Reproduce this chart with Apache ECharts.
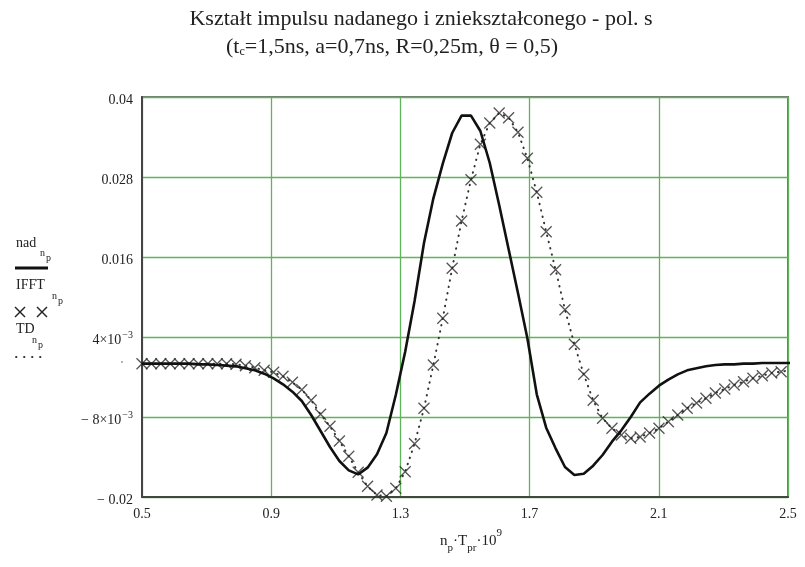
<!DOCTYPE html>
<html>
<head>
<meta charset="utf-8">
<script src="https://cdn.jsdelivr.net/npm/echarts@6/dist/echarts.min.js"></script>
<style>
  html, body { margin: 0; padding: 0; background: #fff; }
  #chart { width: 805px; height: 567px; }
</style>
</head>
<body>
<div id="chart"></div>
<script>
// Sampling grid: x = n_p * T_pr * 1e9 (ns)
const startNs = 0.5;
const samplePeriodNs = 0.0291;

// Transmitted pulse (solid line)
const nad = [
  0.0000, 0.0000, 0.0000, 0.0000, 0.0000, 0.0000, -0.0001, -0.0001, -0.0002, -0.0003,
  -0.0004, -0.0007, -0.0010, -0.0015, -0.0022, -0.0031, -0.0042, -0.0056, -0.0077, -0.0101,
  -0.0125, -0.0146, -0.0160, -0.0166, -0.0156, -0.0136, -0.0104, -0.0047, 0.0018, 0.0094,
  0.0181, 0.0248, 0.0300, 0.0346, 0.0372, 0.0372, 0.0349, 0.0301, 0.0238, 0.0172,
  0.0106, 0.0038, -0.0046, -0.0096, -0.0127, -0.0155, -0.0167, -0.0165, -0.0153, -0.0137,
  -0.0117, -0.0100, -0.0080, -0.0058, -0.0045, -0.0033, -0.0024, -0.0016, -0.0010, -0.0007,
  -0.0004, -0.0002, -0.0001, -0.0001, 0.0000, 0.0000, 0.0001, 0.0001, 0.0001, 0.0001
];

// Distorted pulse, time-domain computation (dotted line)
const td = [
  0.0000, 0.0000, 0.0000, 0.0000, 0.0000, 0.0000, 0.0000, 0.0000, 0.0000, 0.0000,
  -0.0001, -0.0003, -0.0006, -0.0010, -0.0013, -0.0019, -0.0028, -0.0039, -0.0055, -0.0076,
  -0.0094, -0.0116, -0.0139, -0.0163, -0.0184, -0.0197, -0.0199, -0.0187, -0.0162, -0.0120,
  -0.0067, -0.0002, 0.0068, 0.0143, 0.0214, 0.0276, 0.0329, 0.0361, 0.0376, 0.0369,
  0.0347, 0.0308, 0.0257, 0.0198, 0.0141, 0.0081, 0.0029, -0.0016, -0.0055, -0.0082,
  -0.0097, -0.0107, -0.0112, -0.0110, -0.0104, -0.0097, -0.0087, -0.0077, -0.0067, -0.0059,
  -0.0052, -0.0044, -0.0038, -0.0032, -0.0027, -0.0022, -0.0018, -0.0014, -0.0012, -0.0010
];

// Distorted pulse, IFFT computation (crosses) - coincides with td at this scale
const ifft = [
  0.0000, 0.0000, 0.0000, 0.0000, 0.0000, 0.0000, 0.0000, 0.0000, 0.0000, 0.0000,
  -0.0001, -0.0003, -0.0006, -0.0010, -0.0013, -0.0019, -0.0028, -0.0039, -0.0055, -0.0076,
  -0.0094, -0.0116, -0.0139, -0.0163, -0.0184, -0.0197, -0.0199, -0.0187, -0.0162, -0.0120,
  -0.0067, -0.0002, 0.0068, 0.0143, 0.0214, 0.0276, 0.0329, 0.0361, 0.0376, 0.0369,
  0.0347, 0.0308, 0.0257, 0.0198, 0.0141, 0.0081, 0.0029, -0.0016, -0.0055, -0.0082,
  -0.0097, -0.0107, -0.0112, -0.0110, -0.0104, -0.0097, -0.0087, -0.0077, -0.0067, -0.0059,
  -0.0052, -0.0044, -0.0038, -0.0032, -0.0027, -0.0022, -0.0018, -0.0014, -0.0012, -0.0010
];

// Axis tick labels
const xTickLabels = ['0.5', '0.9', '1.3', '1.7', '2.1', '2.5'];
const yTickLabels = ['− 0.02', '− 8×10{sup|−3}', '4×10{sup|−3}', '0.016', '0.028', '0.04'];

const serif = '"Liberation Serif", "DejaVu Serif", serif';
const ink = '#222';

function pairs(values) {
  return values.map((v, k) => [startNs + k * samplePeriodNs, v]);
}

const chart = echarts.init(document.getElementById('chart'), null, { renderer: 'canvas' });

const labelRich = {
  sup: { fontFamily: serif, fontSize: 10, color: ink, verticalAlign: 'top', lineHeight: 12, padding: [0, 0, 0, 1] }
};

const crossPath = 'path://M0,0L10,10M10,0L0,10';

chart.setOption({
  animation: false,
  backgroundColor: '#fff',
  grid: {
    left: 142, right: 17, top: 97, bottom: 70,
    show: true, borderColor: '#777', borderWidth: 2, backgroundColor: 'transparent'
  },
  xAxis: {
    type: 'value', min: 0.5, max: 2.5, interval: 0.4,
    axisLine: { show: true, onZero: false, lineStyle: { color: '#444', width: 2 } },
    axisTick: { show: false },
    splitLine: { show: true, lineStyle: { color: '#5fb35a', width: 1.3 } },
    axisLabel: {
      margin: 10, fontFamily: serif, fontSize: 14, color: ink,
      showMinLabel: true, showMaxLabel: true,
      formatter: (v) => xTickLabels[Math.round((v - 0.5) / 0.4)]
    },
    name: 'n{sub|p}·T{sub|pr}·10{sup|9}',
    nameLocation: 'middle', nameGap: 31,
    nameTextStyle: {
      fontFamily: serif, fontSize: 15, color: ink, lineHeight: 26,
      padding: [0, 0, 0, 12],
      rich: {
        sub: { fontFamily: serif, fontSize: 11, color: ink, verticalAlign: 'bottom', lineHeight: 13 },
        sup: { fontFamily: serif, fontSize: 11, color: ink, verticalAlign: 'top', lineHeight: 13 }
      }
    }
  },
  yAxis: {
    type: 'value', min: -0.02, max: 0.04, interval: 0.012,
    axisLine: { show: true, onZero: false, lineStyle: { color: '#444', width: 2 } },
    axisTick: { show: false },
    splitLine: { show: true, lineStyle: { color: '#5fb35a', width: 1.3 } },
    axisLabel: {
      margin: 9, fontFamily: serif, fontSize: 14, color: ink, lineHeight: 20,
      padding: [6, 0, 0, 0],
      showMinLabel: true, showMaxLabel: true,
      rich: labelRich,
      formatter: (v) => yTickLabels[Math.round((v + 0.02) / 0.012)]
    }
  },
  series: [
    {
      name: 'TD', type: 'line', data: pairs(td), showSymbol: false, symbol: 'none',
      lineStyle: { color: '#333', width: 2, type: [0.5, 6], cap: 'round' },
      z: 2, silent: true
    },
    {
      name: 'IFFT', type: 'scatter', data: pairs(ifft), symbol: crossPath, symbolSize: 11,
      itemStyle: { color: 'rgba(0,0,0,0)', borderColor: '#2a2a2a', borderWidth: 1.3 },
      z: 3, silent: true
    },
    {
      name: 'nad', type: 'line', data: pairs(nad), showSymbol: false, symbol: 'none',
      lineStyle: { color: '#111', width: 2.6 },
      z: 4, silent: true
    }
  ],
  graphic: [
    // Title
    { type: 'text', x: 421, y: 19, style: { text: 'Kształt impulsu nadanego i zniekształconego - pol. s', font: '22px ' + serif, fill: ink, align: 'center', verticalAlign: 'middle' } },
    { type: 'text', x: 392, y: 47, style: {
        text: '(t{sub|c}=1,5ns, a=0,7ns, R=0,25m, θ = 0,5)', font: '22px ' + serif, fill: ink, align: 'center', verticalAlign: 'middle',
        rich: { sub: { fontFamily: serif, fontSize: 12, fill: ink, verticalAlign: 'bottom', lineHeight: 15 } }
      } },
    // Legend: nad
    { type: 'text', x: 16, y: 243, style: { text: 'nad', font: '14px ' + serif, fill: ink, verticalAlign: 'middle' } },
    { type: 'text', x: 40, y: 253, style: { text: 'n', font: '10px ' + serif, fill: ink, verticalAlign: 'middle' } },
    { type: 'text', x: 46, y: 258, style: { text: 'p', font: '10px ' + serif, fill: ink, verticalAlign: 'middle' } },
    { type: 'line', shape: { x1: 15, y1: 268, x2: 48, y2: 268 }, style: { stroke: '#111', lineWidth: 3 } },
    // Legend: IFFT
    { type: 'text', x: 16, y: 285, style: { text: 'IFFT', font: '14px ' + serif, fill: ink, verticalAlign: 'middle' } },
    { type: 'text', x: 52, y: 296, style: { text: 'n', font: '10px ' + serif, fill: ink, verticalAlign: 'middle' } },
    { type: 'text', x: 58, y: 301, style: { text: 'p', font: '10px ' + serif, fill: ink, verticalAlign: 'middle' } },
    { type: 'line', shape: { x1: 15, y1: 307, x2: 25, y2: 317 }, style: { stroke: '#222', lineWidth: 1.4 } },
    { type: 'line', shape: { x1: 25, y1: 307, x2: 15, y2: 317 }, style: { stroke: '#222', lineWidth: 1.4 } },
    { type: 'line', shape: { x1: 37, y1: 307, x2: 47, y2: 317 }, style: { stroke: '#222', lineWidth: 1.4 } },
    { type: 'line', shape: { x1: 47, y1: 307, x2: 37, y2: 317 }, style: { stroke: '#222', lineWidth: 1.4 } },
    // Legend: TD
    { type: 'text', x: 16, y: 329, style: { text: 'TD', font: '14px ' + serif, fill: ink, verticalAlign: 'middle' } },
    { type: 'text', x: 32, y: 340, style: { text: 'n', font: '10px ' + serif, fill: ink, verticalAlign: 'middle' } },
    { type: 'text', x: 38, y: 345, style: { text: 'p', font: '10px ' + serif, fill: ink, verticalAlign: 'middle' } },
    { type: 'line', shape: { x1: 16, y1: 357, x2: 41, y2: 357 }, style: { stroke: '#333', lineWidth: 1.8, lineDash: [0.5, 7.5], lineCap: 'round' } },
    // stray point beside the axis labels
    { type: 'circle', shape: { cx: 122, cy: 362, r: 0.8 }, style: { fill: '#555' } }
  ]
});
</script>
</body>
</html>
